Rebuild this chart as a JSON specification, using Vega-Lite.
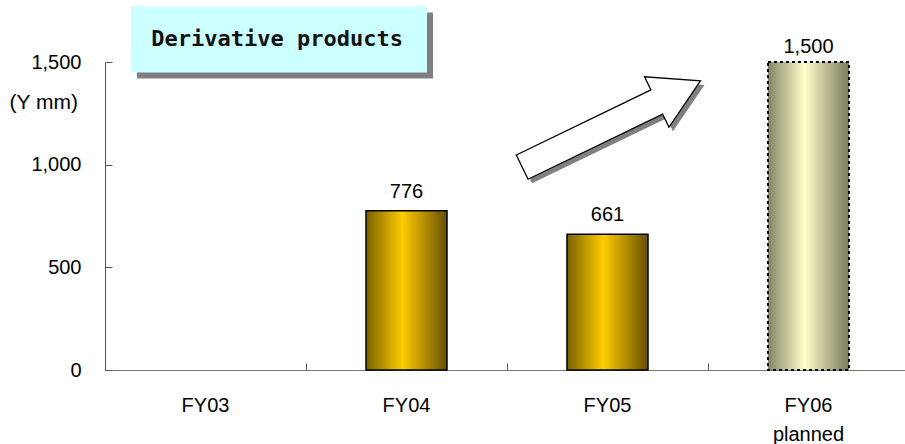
{
  "$schema": "https://vega.github.io/schema/vega-lite/v6.json",
  "width": 800,
  "height": 308,
  "autosize": {"type": "none"},
  "padding": {"left": 105, "top": 62, "right": 0, "bottom": 74},
  "background": "white",
  "config": {"view": {"stroke": null}, "font": "Liberation Sans"},
  "datasets": {
    "sales": [
      {"year": "FY04", "value": 776, "status": "actual"},
      {"year": "FY05", "value": 661, "status": "actual"},
      {"year": "FY06", "value": 1500, "status": "planned"}
    ]
  },
  "layer": [
    {
      "data": {"values": [{}]},
      "layer": [
        {
          "mark": {"type": "rect", "fill": "#808080", "xOffset": 6, "x2Offset": 6, "yOffset": 6, "y2Offset": 6},
          "encoding": {
            "x": {"datum": 0.129, "type": "quantitative", "scale": {"domain": [0, 4], "range": [0, 804]}, "axis": null},
            "x2": {"datum": 1.602},
            "y": {"datum": 1770, "type": "quantitative", "scale": {"domain": [0, 1500]}},
            "y2": {"datum": 1449}
          }
        },
        {
          "mark": {"type": "rect", "fill": "#ccffff"},
          "encoding": {
            "x": {"datum": 0.129, "type": "quantitative", "scale": {"domain": [0, 4], "range": [0, 804]}, "axis": null},
            "x2": {"datum": 1.602},
            "y": {"datum": 1770, "type": "quantitative", "scale": {"domain": [0, 1500]}},
            "y2": {"datum": 1449}
          }
        },
        {
          "mark": {"type": "text", "font": "DejaVu Sans Mono", "fontSize": 22, "fontWeight": "bold", "align": "center", "baseline": "middle", "color": "#111"},
          "encoding": {
            "x": {"datum": 0.856, "type": "quantitative", "scale": {"domain": [0, 4], "range": [0, 804]}, "axis": null},
            "y": {"datum": 1612, "type": "quantitative", "scale": {"domain": [0, 1500]}},
            "text": {"value": "Derivative products"}
          }
        },
        {
          "mark": {"type": "point", "shape": "M-1,-0.136L0.51,-0.136L0.51,-0.283L1,0L0.51,0.283L0.51,0.136L-1,0.136Z", "size": 39204, "angle": 334.2, "filled": true, "fill": "#808080", "opacity": 1, "strokeWidth": 0, "xOffset": 4, "yOffset": 4},
          "encoding": {
            "x": {"datum": 2.519, "type": "quantitative", "scale": {"domain": [0, 4], "range": [0, 804]}, "axis": null},
            "y": {"datum": 1198, "type": "quantitative", "scale": {"domain": [0, 1500]}}
          }
        },
        {
          "mark": {"type": "point", "shape": "M-1,-0.136L0.51,-0.136L0.51,-0.283L1,0L0.51,0.283L0.51,0.136L-1,0.136Z", "size": 39204, "angle": 334.2, "filled": true, "fill": "white", "opacity": 1, "stroke": "black", "strokeWidth": 1.3},
          "encoding": {
            "x": {"datum": 2.519, "type": "quantitative", "scale": {"domain": [0, 4], "range": [0, 804]}, "axis": null},
            "y": {"datum": 1198, "type": "quantitative", "scale": {"domain": [0, 1500]}}
          }
        }
      ]
    },
    {
      "data": {"name": "sales"},
      "encoding": {
        "x": {
          "field": "year",
          "type": "nominal",
          "scale": {"domain": ["FY03", "FY04", "FY05", "FY06"], "range": [0, 804], "paddingInner": 0, "paddingOuter": 0},
          "axis": {
            "title": null,
            "labelAngle": 0,
            "bandPosition": 0,
            "tickSize": -7,
            "tickColor": "#555",
            "domainColor": "#777",
            "labelFontSize": 20,
            "labelColor": "black",
            "labelPadding": 32,
            "labelBaseline": "top",
            "labelLineHeight": 29,
            "labelExpr": "datum.value == 'FY06' ? ['FY06', 'planned'] : datum.value"
          }
        },
        "y": {
          "field": "value",
          "type": "quantitative",
          "scale": {"domain": [0, 1500]},
          "axis": {
            "values": [0, 500, 1000, 1500],
            "format": ",d",
            "grid": false,
            "tickSize": -7,
            "tickColor": "#555",
            "domainColor": "#555",
            "labelFontSize": 20,
            "labelColor": "black",
            "labelPadding": 31,
            "title": "(Y mm)",
            "titleAngle": 0,
            "titleAlign": "left",
            "titleBaseline": "middle",
            "titleX": -96,
            "titleY": 40,
            "titleFontSize": 21,
            "titleFontWeight": "normal",
            "titleColor": "black"
          }
        }
      },
      "layer": [
        {
          "transform": [{"filter": "datum.status == 'actual'"}],
          "mark": {
            "type": "bar",
            "size": 81,
            "stroke": "black",
            "strokeWidth": 1.5,
            "fill": {"gradient": "linear", "x1": 0, "y1": 0, "x2": 1, "y2": 0, "stops": [
              {"offset": 0, "color": "#7a6200"},
              {"offset": 0.45, "color": "#ffcc00"},
              {"offset": 1, "color": "#665000"}
            ]}
          }
        },
        {
          "transform": [{"filter": "datum.status == 'planned'"}],
          "mark": {
            "type": "bar",
            "size": 81,
            "stroke": "black",
            "strokeWidth": 2,
            "strokeDash": [3, 3],
            "fill": {"gradient": "linear", "x1": 0, "y1": 0, "x2": 1, "y2": 0, "stops": [
              {"offset": 0, "color": "#858565"},
              {"offset": 0.45, "color": "#ffffcc"},
              {"offset": 1, "color": "#7a7a5a"}
            ]}
          }
        },
        {
          "transform": [{"filter": "datum.status == 'actual'"}],
          "mark": {"type": "text", "fontSize": 20, "baseline": "alphabetic", "dy": -13, "color": "black"},
          "encoding": {"text": {"field": "value", "type": "quantitative", "format": ",d"}}
        },
        {
          "transform": [{"filter": "datum.status == 'planned'"}],
          "mark": {"type": "text", "fontSize": 20, "baseline": "alphabetic", "dy": -9, "color": "black"},
          "encoding": {"text": {"field": "value", "type": "quantitative", "format": ",d"}}
        }
      ]
    }
  ],
  "resolve": {"scale": {"x": "independent"}}
}
